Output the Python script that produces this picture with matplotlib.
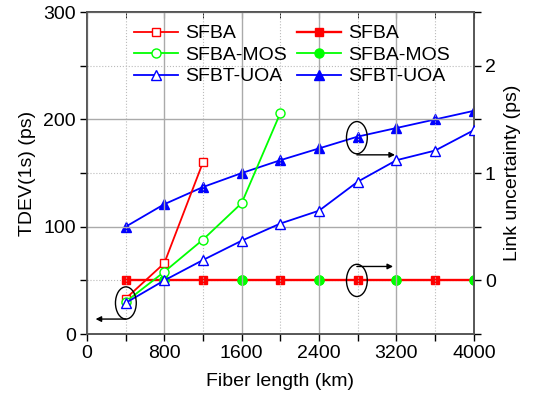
import matplotlib
matplotlib.use("Agg")
import matplotlib.pyplot as plt
from matplotlib.patches import Ellipse
from matplotlib.ticker import MultipleLocator

plt.rcParams['font.family'] = ['Liberation Sans', 'DejaVu Sans']
plt.rcParams['font.size'] = 14

# fiber length (km)
length = [400, 800, 1200, 1600, 2000, 2400, 2800, 3200, 3600, 4000]

# TDEV(1s) in ps, left axis (open markers)
tdev_sfba = [33, 66, 160]
tdev_mos = [30, 58, 88, 122, 206]
tdev_uoa = [29, 50, 69, 87, 103, 115, 142, 162, 171, 190]

# link uncertainty in ps, right axis (filled markers)
unc_sfba = [0, 0, 0, 0, 0, 0, 0, 0, 0, 0]
unc_mos = [0, 0, 0, 0, 0, 0, 0, 0, 0, 0]
unc_uoa = [0.50, 0.71, 0.87, 1.0, 1.12, 1.23, 1.34, 1.42, 1.50, 1.58]

red = '#FF0000'
green = '#00FF00'
blue = '#0000FF'

fig = plt.figure(figsize=(5.33, 4.03), dpi=100)
ax = fig.add_axes([0.163, 0.171, 0.726, 0.799])
ax2 = ax.twinx()

lw = 1.3
ms = 6
h1, = ax.plot(length[:3], tdev_sfba, color=red, marker='s', mfc='white', mec=red,
              ms=ms, lw=lw, mew=1.0, label='SFBA', zorder=4)
h2, = ax.plot(length[:5], tdev_mos, color=green, marker='o', mfc='white', mec=green,
              ms=ms + 0.5, lw=lw, mew=1.0, label='SFBA-MOS', zorder=4)
h3, = ax.plot(length, tdev_uoa, color=blue, marker='^', mfc='white', mec=blue,
              ms=ms + 1.5, lw=lw, mew=1.0, label='SFBT-UOA', zorder=4)

h5, = ax2.plot(length, unc_mos, color=green, marker='o', ms=ms + 0.5,
               markevery=slice(1, None, 2), lw=lw, label='SFBA-MOS')
h4, = ax2.plot(length, unc_sfba, color=red, marker='s', ms=ms,
               markevery=slice(0, None, 2), lw=lw + 0.4, label='SFBA')
ax2.plot(length, unc_mos, color=green, marker='o', ms=ms + 0.5, ls='none',
         markevery=slice(1, None, 2))
h6, = ax2.plot(length, unc_uoa, color=blue, marker='^', ms=ms + 1.5, lw=lw,
               label='SFBT-UOA')

ax.set_xlim(0, 4000)
ax.set_ylim(0, 300)
ax2.set_ylim(-0.5, 2.5)

ax.xaxis.set_major_locator(MultipleLocator(800))
ax.xaxis.set_minor_locator(MultipleLocator(400))
ax.yaxis.set_major_locator(MultipleLocator(100))
ax.yaxis.set_minor_locator(MultipleLocator(50))
ax2.yaxis.set_major_locator(MultipleLocator(1))
ax2.yaxis.set_minor_locator(MultipleLocator(0.5))

ax.grid(True, which='major', color='#aaaaaa', lw=1.0, ls='-')
ax.grid(True, which='minor', axis='x', color='#bbbbbb', lw=0.8, ls=':')
ax2.grid(True, which='major', color='#bbbbbb', lw=0.8, ls=':')
ax.set_axisbelow(True)

ax.tick_params(which='both', direction='out', length=5, width=1, pad=3)
ax2.tick_params(which='both', direction='out', length=5, width=1, pad=3)
top = ax.secondary_xaxis('top')
top.xaxis.set_major_locator(MultipleLocator(800))
top.xaxis.set_minor_locator(MultipleLocator(400))
top.tick_params(which='both', direction='in', length=4, labeltop=False)

for a in (ax, ax2, top):
    for s in a.spines.values():
        s.set_color('#555555')
        s.set_linewidth(1.2)

ax.set_xlabel('Fiber length (km)', labelpad=8)
ax.set_ylabel('TDEV(1s) (ps)', labelpad=5)
ax2.set_ylabel('Link uncertainty (ps)', labelpad=6)

# ellipses with arrows pointing at the axes
for cx, cy in [(403, 29), (2791, 50), (2791, 183)]:
    ax.add_patch(Ellipse((cx, cy), 215, 30, fill=False, ec='black', lw=1.0, zorder=6))
arrow = dict(arrowstyle='-|>', color='black', lw=1.0,
             mutation_scale=8, shrinkA=0, shrinkB=0)
ax.annotate('', xy=(90, 14), xytext=(403, 14), arrowprops=arrow, zorder=6)
ax.annotate('', xy=(3165, 63), xytext=(2791, 63), arrowprops=arrow, zorder=6)
ax.annotate('', xy=(3185, 167), xytext=(2791, 167), arrowprops=arrow, zorder=6)

ax.set_zorder(ax2.get_zorder() + 1)
ax.patch.set_visible(False)

leg = ax.legend([h1, h2, h3, h4, h5, h6],
                ['SFBA', 'SFBA-MOS', 'SFBT-UOA', 'SFBA', 'SFBA-MOS', 'SFBT-UOA'],
                ncol=2, frameon=False, loc='upper left',
                bbox_to_anchor=(0.088, 1.0), borderaxespad=0.25,
                handlelength=2.3, handletextpad=0.35, labelspacing=0.2,
                columnspacing=0.5)

fig.savefig('out.png', dpi=100)
